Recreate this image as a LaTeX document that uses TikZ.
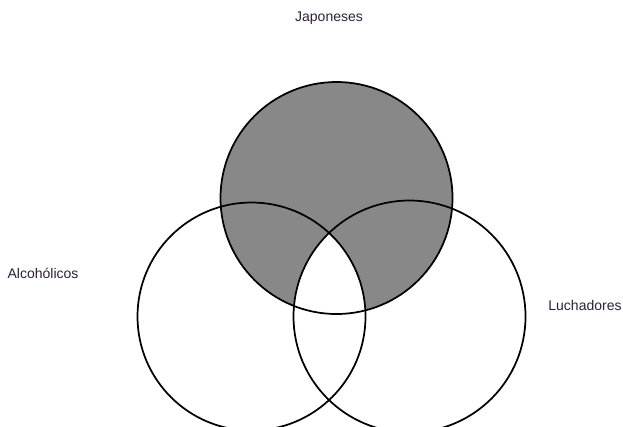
\documentclass[tikz,border=0pt]{standalone}
\usepackage{fontspec}
\setmainfont{Liberation Sans}
\usepackage{xcolor}
\usepackage{tikz}
\usetikzlibrary{positioning}
\definecolor{vennGray}{RGB}{136,136,136}
\definecolor{labelInk}{RGB}{45,30,60}
\tikzstyle{venn} = [circle, draw=black, line width=1.3pt, inner sep=0pt]
\tikzstyle{setlabel} = [font=\fontsize{10.5}{12}\selectfont, text=labelInk]

\begin{document}
\begin{tikzpicture}[x=0.75pt, y=-0.75pt]
                \useasboundingbox (0,0) rectangle (623,426);
                \begin{scope}
                \clip (0,0) rectangle (623,426);
                % shaded set
                \fill[vennGray] (336.5,198) circle (116);
                \begin{scope}
                    \clip (251.5,316.5) circle (114);
                    \clip (409.5,316.5) circle (116);
                    \fill[white] (336.5,198) circle (117);
                \end{scope}

                \node[venn, minimum size=232*0.75pt] (jap) at (336.5,198) {};
                \node[venn, minimum size=228*0.75pt] (alc) at (251.5,316.5) {};
                \node[venn, minimum size=232*0.75pt] (luc) at (409.5,316.5) {};
                \end{scope}

                \node[setlabel] (tjap) at (329,18) {Japoneses};
                \node[setlabel] (talc) at (43,273) {Alcohólicos};
                \node[setlabel] (tluc) at (585,305) {Luchadores};
            \end{tikzpicture}
\end{document}
